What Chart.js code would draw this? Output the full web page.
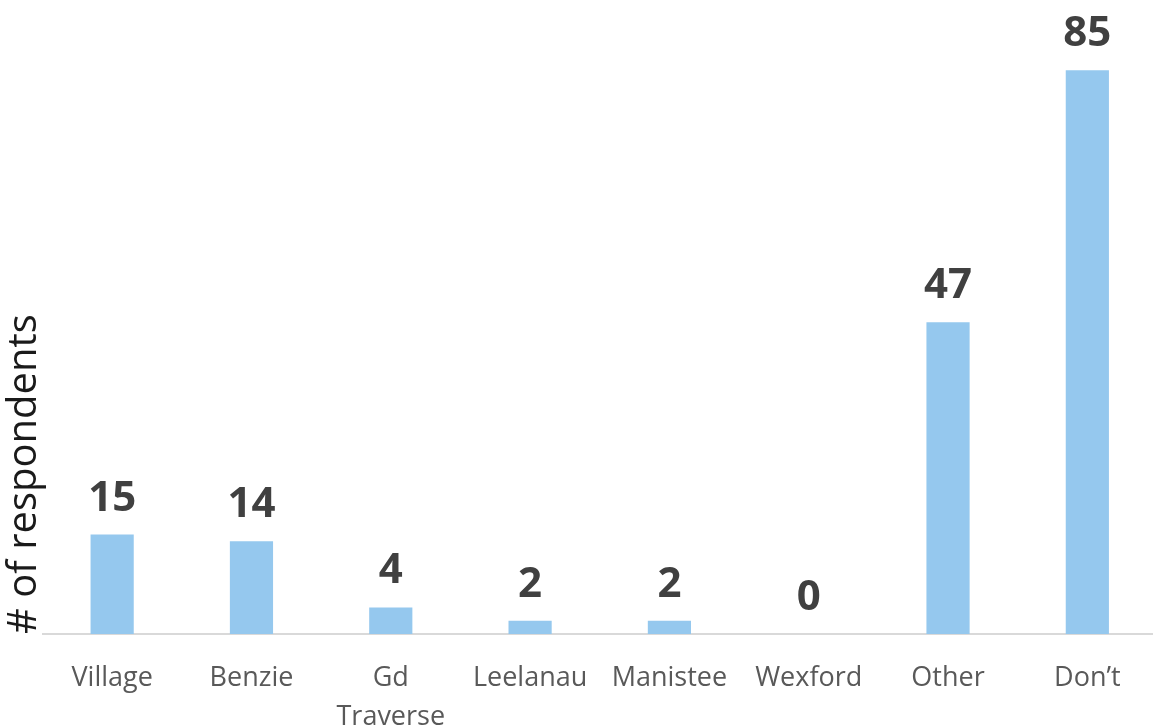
<!DOCTYPE html>
<html>
<head>
<meta charset="utf-8">
<script src="https://cdn.jsdelivr.net/npm/chart.js@4.4.0/dist/chart.umd.min.js"></script>
<style>
  html, body { margin: 0; padding: 0; background: #ffffff; overflow: hidden; }
  #wrap { width: 1153px; height: 728px; overflow: hidden; }
  canvas { display: block; }
</style>
</head>
<body>
<div id="wrap"><canvas id="c" width="1157" height="728"></canvas></div>
<script>
const categories = ["Village", "Benzie", ["Gd", "Traverse"], "Leelanau", "Manistee", "Wexford", "Other", "Don\u2019t"];
const respondents = [15, 14, 4, 2, 2, 0, 47, 85];
const yAxisTitle = "# of respondents";

const valueLabels = {
  id: 'valueLabels',
  afterDatasetsDraw(chart) {
    const ctx = chart.ctx;
    const meta = chart.getDatasetMeta(0);
    ctx.save();
    ctx.font = 'bold 42px "Open Sans"';
    ctx.fillStyle = '#404040';
    ctx.textAlign = 'center';
    ctx.textBaseline = 'alphabetic';
    meta.data.forEach((bar, i) => {
      ctx.fillText(String(chart.data.datasets[0].data[i]), bar.x, bar.y - 24);
    });
    ctx.restore();
  }
};

new Chart(document.getElementById('c'), {
  type: 'bar',
  data: {
    labels: categories,
    datasets: [{
      data: respondents,
      backgroundColor: '#95C8EE',
      borderWidth: 0,
      barPercentage: 0.31,
      categoryPercentage: 1.0
    }]
  },
  options: {
    responsive: false,
    animation: false,
    devicePixelRatio: 1,
    layout: { padding: { top: 37, right: 0, left: 0, bottom: 0 } },
    plugins: { legend: { display: false }, tooltip: { enabled: false } },
    scales: {
      x: {
        grid: { display: false, drawTicks: false },
        border: { display: true, color: '#D9D9D9', width: 2 },
        ticks: {
          color: '#595959',
          font: { family: '"Open Sans"', size: 27, lineHeight: 1.444 },
          padding: 25,
          maxRotation: 0,
          autoSkip: false
        },
        afterFit(scale) { scale.height = 94; }
      },
      y: {
        min: 0,
        max: 90,
        grid: { display: false, drawTicks: false },
        border: { display: false },
        ticks: { display: false },
        title: {
          display: true,
          text: yAxisTitle,
          align: 'start',
          color: '#1a1a1a',
          font: { family: '"Open Sans"', size: 40, lineHeight: 0.88 },
          padding: { top: 7.3, bottom: 0 }
        }
      }
    }
  },
  plugins: [valueLabels]
});
</script>
</body>
</html>
